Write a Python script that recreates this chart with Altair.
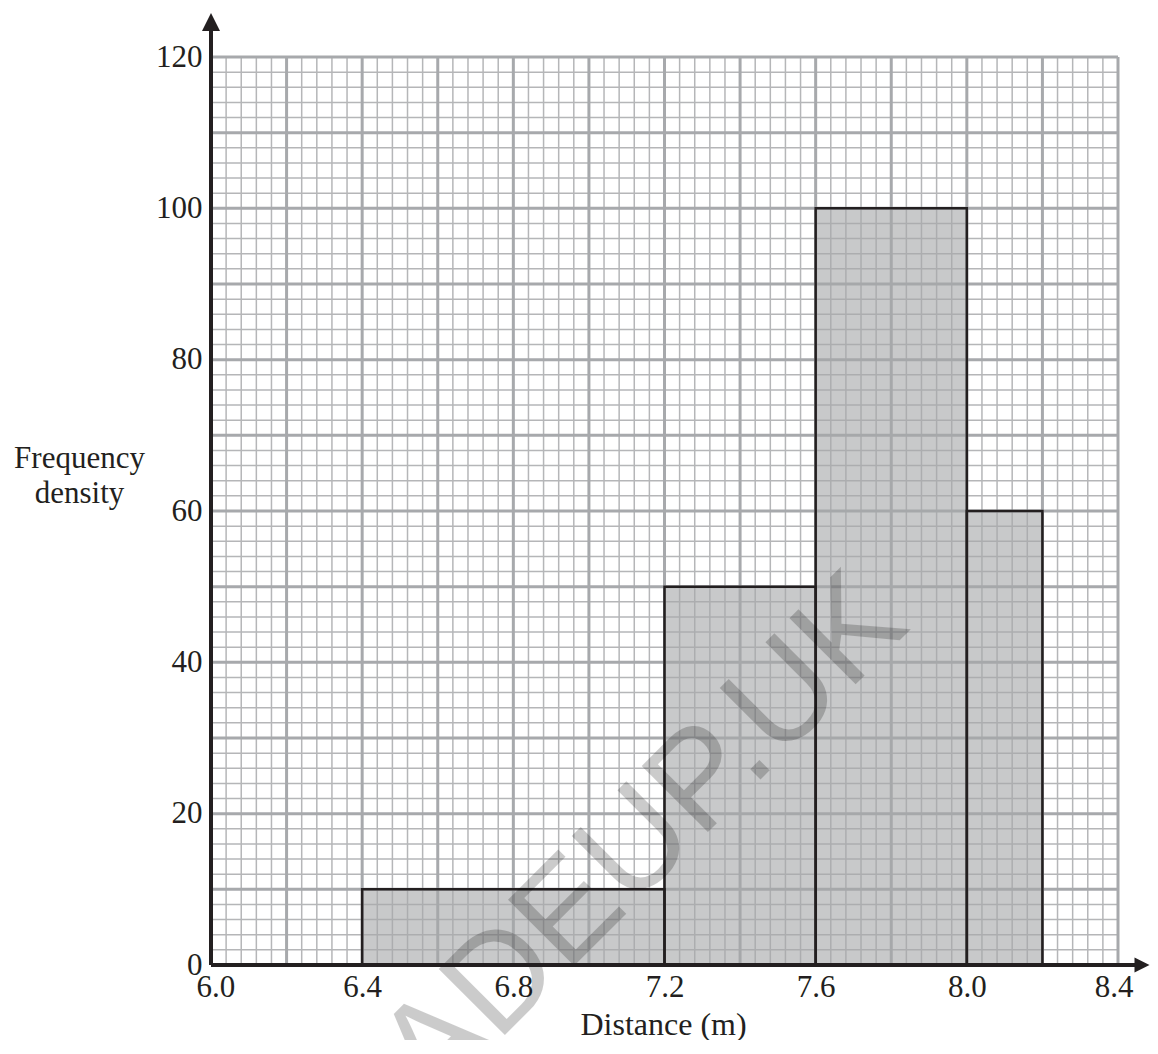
import altair as alt
import numpy as np
import pandas as pd

# ---- data ----
bin_start = [6.4, 7.2, 7.6, 8.0]
bin_end = [7.2, 7.6, 8.0, 8.2]
freq_density = [10, 50, 100, 60]
x_tick_labels = [6.0, 6.4, 6.8, 7.2, 7.6, 8.0, 8.4]
y_tick_labels = [0, 20, 40, 60, 80, 100, 120]
x_title = "Distance (m)"
y_title = ["Frequency", "density"]
watermark = "GRADEUP.UK"

# ---- styling ----
SERIF = "Liberation Serif"
SANS = "Liberation Sans"
DARK = "#231f20"
MINOR = "#b5b6b8"
MAJOR = "#a7a9ac"
W, H = 907, 908
X_DOM = [6.0, 8.4]
Y_DOM = [0, 120]

bars = pd.DataFrame({"start": bin_start, "end": bin_end, "fd": freq_density,
                     "base": [0] * len(bin_start)})
xs_minor = pd.DataFrame({"x": np.round(6.0 + 0.04 * np.arange(61), 2)})
xs_major = pd.DataFrame({"x": np.round(6.0 + 0.2 * np.arange(13), 2)})
ys_minor = pd.DataFrame({"y": np.arange(0, 121, 2)})
ys_major = pd.DataFrame({"y": np.arange(0, 121, 10)})
one = pd.DataFrame({"k": [0]})

xsc = alt.Scale(domain=X_DOM, nice=False, zero=False)
ysc = alt.Scale(domain=Y_DOM, nice=False, zero=True)

x_axis = alt.Axis(values=x_tick_labels, format=".1f", domain=False, ticks=False, tickSize=0,
                  grid=False, labelFont=SERIF, labelFontSize=31, labelColor=DARK,
                  labelPadding=7, labelFlush=True, labelFlushOffset=15, labelOverlap=False,
                  title=x_title, titleFont=SERIF, titleFontSize=32, titleFontWeight="normal",
                  titleColor=DARK, titleX=452, titleY=69, titleAlign="center",
                  titleBaseline="alphabetic")
y_axis = alt.Axis(values=y_tick_labels, domain=False, ticks=False, tickSize=0, grid=False,
                  labelFont=SERIF, labelFontSize=31, labelColor=DARK, labelPadding=9,
                  labelFlush=False, labelOverlap=False,
                  title=y_title, titleFont=SERIF, titleFontSize=31, titleFontWeight="normal",
                  titleColor=DARK, titleAngle=0, titleX=-132, titleY=410,
                  titleAlign="center", titleBaseline="alphabetic", titleLineHeight=35)

grid_minor_v = alt.Chart(xs_minor).mark_rule(color=MINOR, strokeWidth=1.5).encode(
    x=alt.X("x:Q", scale=xsc, axis=x_axis))
grid_minor_h = alt.Chart(ys_minor).mark_rule(color=MINOR, strokeWidth=1.5).encode(
    y=alt.Y("y:Q", scale=ysc, axis=y_axis))
grid_major_v = alt.Chart(xs_major).mark_rule(color=MAJOR, strokeWidth=3).encode(
    x=alt.X("x:Q", scale=xsc, axis=x_axis))
grid_major_h = alt.Chart(ys_major).mark_rule(color=MAJOR, strokeWidth=3).encode(
    y=alt.Y("y:Q", scale=ysc, axis=y_axis))

bar_fill = alt.Chart(bars).mark_rect(color="#a7a8aa", opacity=0.62).encode(
    x=alt.X("start:Q", scale=xsc, axis=x_axis),
    x2="end:Q",
    y=alt.Y("fd:Q", scale=ysc, axis=y_axis),
    y2="base:Q",
)
bar_edge = alt.Chart(bars).mark_rect(filled=False, stroke=DARK, strokeWidth=2.5).encode(
    x=alt.X("start:Q", scale=xsc, axis=x_axis),
    x2="end:Q",
    y=alt.Y("fd:Q", scale=ysc, axis=y_axis),
    y2="base:Q",
)

wm = alt.Chart(one).mark_text(text=watermark, font=SANS, fontSize=136, angle=315,
                              align="right", baseline="alphabetic", color="black",
                              opacity=0.2).encode(x=alt.value(701), y=alt.value(571))

y_line = alt.Chart(one).mark_rule(color=DARK, strokeWidth=4).encode(
    x=alt.value(0), y=alt.value(-30), y2=alt.value(H))
x_line = alt.Chart(one).mark_rule(color=DARK, strokeWidth=4).encode(
    y=alt.value(H), x=alt.value(0), x2=alt.value(925))
y_arrow = alt.Chart(one).mark_point(shape="M-1,1L0,-1L1,1Z", filled=True, size=324,
                                    color=DARK, opacity=1).encode(
    x=alt.value(0), y=alt.value(-35))
x_arrow = alt.Chart(one).mark_point(shape="M-1,-1L1,0L-1,1Z", filled=True, size=225,
                                    color=DARK, opacity=1).encode(
    x=alt.value(931), y=alt.value(H))

chart = alt.layer(
    grid_minor_v, grid_minor_h, grid_major_v, grid_major_h,
    bar_fill, bar_edge, wm, y_line, x_line, y_arrow, x_arrow,
).properties(
    width=W, height=H,
    padding={"left": 203, "top": 49, "right": 32, "bottom": 75},
    autosize=alt.AutoSizeParams(type="none"),
    background="white",
).configure_view(stroke=None)

chart.save("out.html", embed_options={"renderer": "svg", "actions": False})
